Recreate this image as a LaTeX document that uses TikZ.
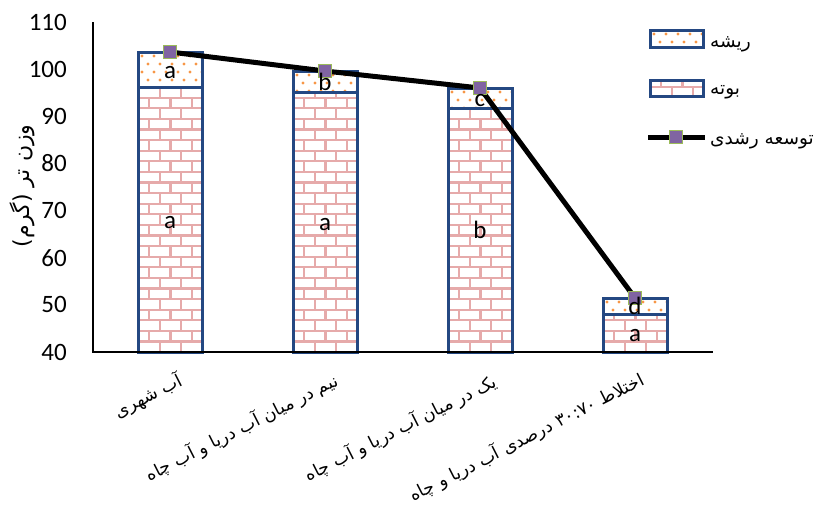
\documentclass[tikz,border=0pt]{standalone}
\usepackage{fontspec}
\setmainfont{Carlito}
\newfontfamily\fa[Script=Arabic]{DejaVu Sans}
\TeXXeTstate=1
\definecolor{barblue}{RGB}{36,72,130}
\definecolor{brickc}{RGB}{230,170,170}
\definecolor{dotor}{RGB}{247,150,70}
\definecolor{mkfill}{RGB}{128,100,162}
\definecolor{mkline}{RGB}{155,187,89}
\tikzset{
  brickline/.style={brickc,line width=2.2pt},
  barbox/.style={draw=barblue,line width=3pt},
  axisline/.style={black,line width=1.5pt},
  series/.style={black,line width=5pt,line join=round},
  marker/.style={draw=mkline,fill=mkfill,line width=1.8pt,minimum size=13pt,inner sep=0pt,rectangle},
  ticklab/.style={font=\fontsize{25}{28}\selectfont,anchor=east,inner sep=0pt},
  barlab/.style={font=\fontsize{25}{28}\selectfont,anchor=base,inner sep=0pt},
  catlab/.style={font=\fa\fontsize{17.5}{19}\selectfont,anchor=north east,rotate=27,inner sep=0pt},
  leglab/.style={font=\fa\fontsize{18.5}{20}\selectfont,anchor=west,inner sep=0pt},
}
\newcommand\brickfill[4]{%
  \begin{scope}
    \clip (#1,#2) rectangle (#3,#4);
    \foreach \k in {0,...,31}{
      \pgfmathsetmacro\yb{352-\k*10.6}
      \pgfmathsetmacro\yt{\yb-10.6}
      \pgfmathsetmacro\off{mod(\k,2)*10.8}
      \draw[brickline] (#1,\yb) -- (#3,\yb);
      \foreach \j in {0,...,3}{
        \draw[brickline] ({#1+\off+\j*21.6},\yb) -- ({#1+\off+\j*21.6},\yt);
      }
    }
  \end{scope}}
\newcommand\dotsfill[4]{%
  \begin{scope}
    \clip (#1,#2) rectangle (#3,#4);
    \foreach \k in {0,...,5}{
      \pgfmathsetmacro\yy{#2+4+\k*8}
      \pgfmathsetmacro\off{mod(\k,2)*6}
      \foreach \j in {0,...,6}{
        \fill[dotor] ({#1+4+\off+\j*12},\yy) circle (1.6);
      }
    }
  \end{scope}}
\begin{document}
\begin{tikzpicture}[x=1pt,y=-1pt]
\useasboundingbox (0,0) rectangle (819,509);
% bars: bottom segments
\brickfill{138}{87}{202}{352}
\brickfill{293}{92}{357}{352}
\brickfill{448}{108}{512}{352}
\brickfill{603}{314}{667}{352}
% top segments
\dotsfill{138}{52}{202}{87}
\dotsfill{293}{71}{357}{92}
\dotsfill{448}{88}{512}{108}
\dotsfill{603}{298}{667}{314}
\draw[barbox] (138,352) rectangle (202,87);
\draw[barbox] (138,87) rectangle (202,52);
\draw[barbox] (293,352) rectangle (357,92);
\draw[barbox] (293,92) rectangle (357,71);
\draw[barbox] (448,352) rectangle (512,108);
\draw[barbox] (448,108) rectangle (512,88);
\draw[barbox] (603,352) rectangle (667,314);
\draw[barbox] (603,314) rectangle (667,298);
% axes
\draw[axisline] (93,22) -- (93,352) -- (713,352);
% tick labels
\foreach \v/\yy in {40/352,50/304.86,60/257.71,70/210.57,80/163.43,90/116.29,100/69.14,110/22}{
  \node[ticklab] (t\v) at (67,\yy) {\v};
}
% series
\coordinate (p1) at (170,52);
\coordinate (p2) at (325,71);
\coordinate (p3) at (480,88);
\coordinate (p4) at (635,298);
\draw[series] (p1) -- (p2) -- (p3) -- (p4);
\node[marker] (m1) at (p1) {};
\node[marker] (m2) at (p2) {};
\node[marker] (m3) at (p3) {};
\node[marker] (m4) at (p4) {};
% bar labels
\node[barlab] (l1a) at (170,78) {a};
\node[barlab] (l1b) at (170,228) {a};
\node[barlab] (l2a) at (325,90) {b};
\node[barlab] (l2b) at (325,230.5) {a};
\node[barlab] (l3a) at (480,106.5) {c};
\node[barlab] (l3b) at (480,238.5) {b};
\node[barlab] (l4a) at (635,314.5) {d};
\node[barlab] (l4b) at (635,341.5) {a};
% y title
\node[font=\fa\fontsize{22}{24}\selectfont,rotate=90,inner sep=0pt] (ytitle) at (22,186) {\beginR وزن تر (گرم)\endR};
% category labels
\node[catlab] (c1) at (176,370) {\beginR آب شهری\endR};
\node[catlab] (c2) at (332,370) {\beginR نیم در میان آب دریا و آب چاه\endR};
\node[catlab] (c3) at (490,371) {\beginR یک در میان آب دریا و آب چاه\endR};
\node[catlab] (c4) at (638,369) {\beginR اختلاط \beginL ۳۰:۷۰\endL{} درصدی آب دریا و چاه\endR};
% legend
\dotsfill{650}{30}{703}{47}
\draw[barbox] (650,30) rectangle (703,47);
\brickfill{650}{80}{703}{96}
\draw[barbox] (650,80) rectangle (703,96);
\coordinate (la) at (648,137);
\coordinate (lb) at (705,137);
\draw[series] (la) -- (lb);
\node[marker] (lm) at (676,137) {};
\node[leglab] (g1) at (710,44) {\beginR ریشه\endR};
\node[leglab] (g2) at (710,92) {\beginR بوته\endR};
\node[leglab] (g3) at (710,141) {\beginR توسعه رشدی\endR};
\end{tikzpicture}
\end{document}
